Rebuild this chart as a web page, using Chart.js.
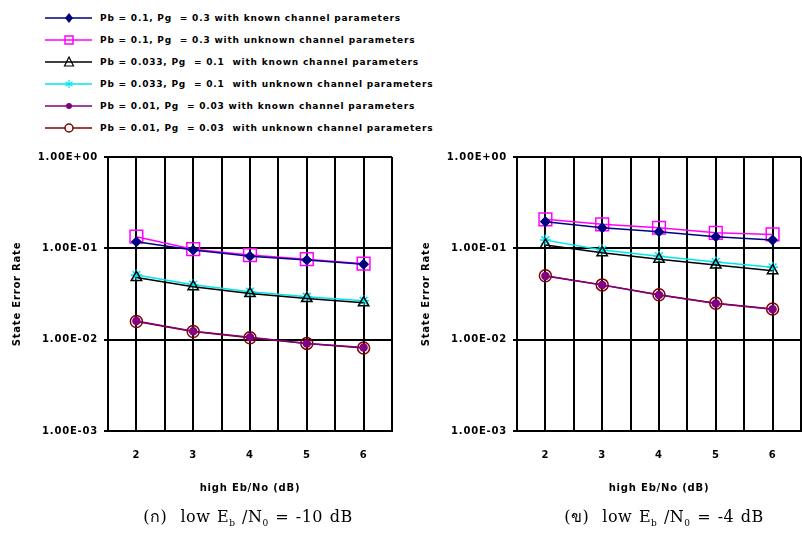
<!DOCTYPE html>
<html>
<head>
<meta charset="utf-8">
<script src="https://cdn.jsdelivr.net/npm/chart.js@4"></script>
<style>
  body { margin: 0; width: 802px; height: 536px; overflow: hidden; background: #fff; position: relative; }
  #legend { position: absolute; left: 45px; top: 7px; }
  .row { height: 22px; display: flex; align-items: center; font: bold 9px 'DejaVu Sans', sans-serif; letter-spacing: 0.8px; color: #000; white-space: pre; }
  .row svg { width: 47px; height: 14px; margin-right: 8px; }
  .wrap { position: absolute; top: 145px; width: 410px; height: 360px; }
  .caption { position: absolute; top: 504px; width: 320px; text-align: center; font: 16px 'DejaVu Serif', serif; letter-spacing: 0.5px; word-spacing: 1px; color: #000; }
  .caption sub { font-size: 9px; }
</style>
</head>
<body>
<div id="legend"></div>
<div class="wrap" style="left:0px"><canvas id="chartA"></canvas></div>
<div class="wrap" style="left:409px"><canvas id="chartB"></canvas></div>
<div class="caption" style="left:88px">(ก)&nbsp; low E<sub>b</sub> /N<sub>0</sub> = -10 dB</div>
<div class="caption" style="left:504px">(ข)&nbsp; low E<sub>b</sub> /N<sub>0</sub> = -4 dB</div>
<script>
const highSnr = [2, 3, 4, 5, 6];
const yTicks = [1, 0.1, 0.01, 0.001];
const seriesNames = [
  'Pb = 0.1, Pg  = 0.3 with known channel parameters',
  'Pb = 0.1, Pg  = 0.3 with unknown channel parameters',
  'Pb = 0.033, Pg  = 0.1  with known channel parameters',
  'Pb = 0.033, Pg  = 0.1  with unknown channel parameters',
  'Pb = 0.01, Pg  = 0.03 with known channel parameters',
  'Pb = 0.01, Pg  = 0.03  with unknown channel parameters'
];

// (ก) low Eb/No = -10 dB
const known01m10 = [0.118, 0.096, 0.082, 0.0745, 0.067];
const unknown01m10 = [0.134, 0.098, 0.0845, 0.076, 0.068];
const known0033m10 = [0.048, 0.038, 0.032, 0.0283, 0.0254];
const unknown0033m10 = [0.051, 0.040, 0.0335, 0.0295, 0.0267];
const known001m10 = [0.016, 0.0124, 0.0106, 0.0091, 0.0082];
const unknown001m10 = [0.0158, 0.0123, 0.0105, 0.0091, 0.0081];

// (ข) low Eb/No = -4 dB
const known01m4 = [0.196, 0.168, 0.152, 0.134, 0.123];
const unknown01m4 = [0.208, 0.183, 0.168, 0.148, 0.142];
const known0033m4 = [0.109, 0.0895, 0.076, 0.0656, 0.057];
const unknown0033m4 = [0.123, 0.096, 0.082, 0.071, 0.062];
const known001m4 = [0.0497, 0.0396, 0.0308, 0.0249, 0.0215];
const unknown001m4 = [0.050, 0.0398, 0.031, 0.025, 0.0217];

const estilos = [
  { color: '#000080', pointStyle: 'rectRot', radius: 4.5, fill: '#000080', width: 1.5 },
  { color: '#ff00ff', pointStyle: 'rect', radius: 9, fill: 'rgba(0,0,0,0)', width: 1.5 },
  { color: '#000000', pointStyle: 'triangle', radius: 6, fill: 'rgba(0,0,0,0)', width: 1.5 },
  { color: '#00e5ee', pointStyle: 'star', radius: 5.5, fill: 'rgba(0,0,0,0)', width: 1.5 },
  { color: '#800080', pointStyle: 'circle', radius: 3.5, fill: '#800080', width: 1.5 },
  { color: '#800000', pointStyle: 'circle', radius: 6, fill: 'rgba(0,0,0,0)', width: 1.5 }
];

// legend (shared by both charts)
const legend = document.getElementById('legend');
const markerSvg = (e) => {
  const c = e.color;
  switch (e.pointStyle) {
    case 'rectRot': return `<polygon points="24,2 28,7 24,12 20,7" fill="${c}"/>`;
    case 'rect': return `<rect x="20" y="3" width="8" height="8" fill="none" stroke="${c}" stroke-width="1.5"/>`;
    case 'triangle': return `<polygon points="24,2 28.5,11 19.5,11" fill="none" stroke="${c}" stroke-width="1.2"/>`;
    case 'star': return `<path d="M24 3 L24 11 M20.5 5 L27.5 9 M27.5 5 L20.5 9" stroke="${c}" stroke-width="1.2"/>`;
    default:
      return e.fill === '#800080'
        ? `<circle cx="24" cy="7" r="3" fill="${c}"/>`
        : `<circle cx="24" cy="7" r="4" fill="#fff" stroke="${c}" stroke-width="1.5"/>`;
  }
};
seriesNames.forEach((name, i) => {
  const e = estilos[i];
  const row = document.createElement('div');
  row.className = 'row';
  row.innerHTML = `<svg viewBox="0 0 47 14"><line x1="0" y1="7" x2="47" y2="7" stroke="${e.color}" stroke-width="1.5"/>${markerSvg(e)}</svg><span>${name}</span>`;
  legend.appendChild(row);
});

const formatoExp = (v) => {
  const exp = Math.round(Math.log10(v));
  const sign = exp < 0 ? '-' : '+';
  return '1.00E' + sign + String(Math.abs(exp)).padStart(2, '0');
};

const xGrid = [];
highSnr.forEach(x => { xGrid.push(x - 0.5, x); });
xGrid.push(highSnr[highSnr.length - 1] + 0.5);

const fuenteEje = { family: "'DejaVu Sans', sans-serif", size: 10, weight: 'bold' };

// wider lettering, like the original bitmap font
const espaciado = {
  id: 'espaciado',
  beforeUpdate: (chart) => { chart.ctx.letterSpacing = '0.8px'; },
  beforeDraw: (chart) => { chart.ctx.letterSpacing = '0.8px'; }
};

const crearGrafico = (id, series) => {
  return new Chart(document.getElementById(id), {
    type: 'line',
    plugins: [espaciado],
    data: {
      datasets: series.map((valores, i) => {
        const e = estilos[i];
        return {
          label: seriesNames[i],
          data: highSnr.map((x, j) => ({ x: x, y: valores[j] })),
          borderColor: e.color,
          backgroundColor: e.fill,
          borderWidth: e.width,
          pointStyle: e.pointStyle,
          pointRadius: e.radius,
          pointBorderColor: e.color,
          pointBackgroundColor: e.fill,
          pointBorderWidth: 1.5,
          tension: 0
        };
      })
    },
    options: {
      responsive: true,
      maintainAspectRatio: false,
      animation: false,
      layout: { padding: { top: 12, right: 9, bottom: 0, left: 0 } },
      plugins: { legend: { display: false }, tooltip: { enabled: false } },
      scales: {
        x: {
          type: 'linear',
          min: xGrid[0],
          max: xGrid[xGrid.length - 1],
          afterBuildTicks: (s) => { s.ticks = xGrid.map(v => ({ value: v })); },
          afterFit: (s) => { s.height = 74; },
          grid: { color: '#000', lineWidth: 2, drawTicks: false },
          border: { color: '#000', width: 2 },
          ticks: {
            autoSkip: false,
            maxRotation: 0,
            padding: 18,
            color: '#000',
            font: fuenteEje,
            callback: (v) => Number.isInteger(v) ? String(v) : ''
          },
          title: {
            display: true,
            text: 'high Eb/No (dB)',
            color: '#000',
            font: fuenteEje,
            padding: { top: 0, bottom: 11 }
          }
        },
        y: {
          type: 'logarithmic',
          min: yTicks[yTicks.length - 1],
          max: yTicks[0],
          afterBuildTicks: (s) => { s.ticks = yTicks.map(v => ({ value: v })); },
          afterFit: (s) => { s.width = 108; },
          grid: { color: '#000', lineWidth: 2, tickLength: 4 },
          border: { color: '#000', width: 2 },
          ticks: {
            padding: 6,
            color: '#000',
            font: fuenteEje,
            callback: (v) => formatoExp(v)
          },
          title: {
            display: true,
            text: 'State Error Rate',
            color: '#000',
            font: fuenteEje,
            padding: { top: 11, bottom: 0 }
          }
        }
      }
    }
  });
};

crearGrafico('chartA', [known01m10, unknown01m10, known0033m10, unknown0033m10, known001m10, unknown001m10]);
crearGrafico('chartB', [known01m4, unknown01m4, known0033m4, unknown0033m4, known001m4, unknown001m4]);
</script>
</body>
</html>
